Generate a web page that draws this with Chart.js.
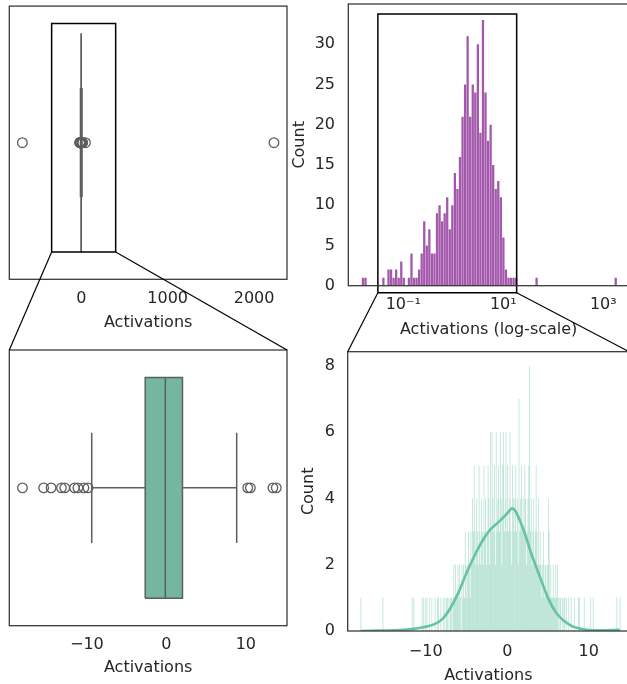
<!DOCTYPE html>
<html>
<head>
<meta charset="utf-8">
<script src="https://cdn.jsdelivr.net/npm/chart.js@4.4.0/dist/chart.umd.min.js"></script>
<style>
  html, body { margin: 0; padding: 0; background: #fff; }
  body { position: relative; width: 627px; height: 684px; overflow: hidden; }
  canvas { position: absolute; }
  #overlay { left: 0; top: 0; pointer-events: none; }
</style>
</head>
<body>
<canvas id="tl" width="300" height="350" style="left:0;top:0"></canvas>
<canvas id="tr" width="350" height="350" style="left:290px;top:0"></canvas>
<canvas id="bl" width="300" height="354" style="left:0;top:340px"></canvas>
<canvas id="br" width="350" height="354" style="left:290px;top:340px"></canvas>
<canvas id="overlay" width="627" height="684"></canvas>
<script>
/* ── Activations: box plots + histograms, full range and zoomed ── */

// ── Data ──────────────────────────────────────
// box summary: lower whisker, Q1, median, Q3, upper whisker
const boxStats = [-9.39, -2.66, -0.13, 2.03, 8.85];
const outliers = [-682, -18.1, -15.44, -14.5, -13.2, -12.78, -11.55, -11.13, -10.37, -9.86,
                  10.24, 10.57, 13.41, 13.83, 48, 2230];

// positive activations, 100 bins of equal width in log10
const logBinStart = -1.832;
const logBinWidth = 0.05106;
const logCounts = [
  1, 1, 0, 0, 0, 0, 0, 0, 1, 0,
  2, 2, 1, 2, 1, 3, 1, 0, 1, 4,
  1, 1, 2, 4, 8, 5, 7, 4, 4, 9,
  10, 8, 9, 11, 7, 10, 14, 12, 16, 21,
  25, 31, 21, 25, 24, 30, 19, 33, 24, 18,
  20, 15, 12, 13, 11, 6, 2, 1, 1, 1,
  1, 0, 0, 0, 0, 0, 0, 0, 1, 0,
  0, 0, 0, 0, 0, 0, 0, 0, 0, 0,
  0, 0, 0, 0, 0, 0, 0, 0, 0, 0,
  0, 0, 0, 0, 0, 0, 0, 0, 0, 1
];

// zoomed histogram, bins of 0.1 starting at -18
const linBinStart = -18.0;
const linBinWidth = 0.1;
const linCounts = [
  1,0,0,0,0,0,0,0,0,0, 0,0,0,0,0,0,0,0,0,0,
  0,0,0,0,0,0,0,1,0,0, 0,0,0,0,0,0,0,0,0,0,
  0,0,0,0,0,0,0,0,0,0, 0,0,0,0,0,0,0,0,0,0,
  0,0,0,1,0,1,0,0,0,0, 0,0,0,0,0,1,0,1,0,1,
  0,1,0,0,1,0,0,1,0,0, 0,1,0,0,1,1,0,0,1,0,
  0,1,0,1,0,1,1,0,1,0, 1,1,0,1,2,1,2,1,1,2,
  1,2,1,0,2,1,2,1,3,2, 1,2,3,2,1,3,2,4,3,5,
  3,2,4,3,2,5,3,2,4,3, 2,5,3,4,2,3,5,4,2,6,
  3,6,4,3,5,2,6,3,4,5, 3,6,4,2,5,6,3,4,6,3,
  5,3,4,6,3,2,5,4,3,4, 5,3,4,2,7,3,4,5,3,4,
  3,5,4,2,3,4,5,8,3,4, 2,3,4,2,3,5,3,2,4,2,
  3,2,1,2,3,1,2,2,1,2, 4,3,1,2,1,1,2,1,1,2,
  1,2,1,0,1,1,0,1,0,1, 1,0,1,0,0,1,0,0,1,0,
  0,0,1,0,0,0,0,1,1,0, 0,0,0,0,1,0,0,0,0,0,
  0,0,1,0,0,1,0,0,0,0, 0,0,0,0,0,0,0,0,0,0,
  0,0,0,0,0,0,0,0,0,0, 0,0,0,0,1,0,0,0,1,0
];

// density curve scaled to counts
const kdeX = [-18.0, -16, -14, -12, -10, -9, -8, -7, -6, -5, -4, -3, -2, -1, 0, 0.6,
              1, 2, 3, 4, 5, 6, 7, 8, 9, 10, 11, 12, 13, 13.8];
const kdeY = [0.0, 0.01, 0.02, 0.05, 0.13, 0.2, 0.35, 0.68, 1.15, 1.75, 2.28, 2.74, 3.08, 3.3, 3.55, 3.7,
              3.62, 3.05, 2.3, 1.64, 1.0, 0.55, 0.3, 0.14, 0.07, 0.03, 0.02, 0.02, 0.03, 0.04];

// ticks
const wideTicks = [0, 1000, 2000];
const wideTickLabels = ['0', '1000', '2000'];
const zoomTicks = [-10, 0, 10];
const zoomTickLabels = ['\u221210', '0', '10'];
const logTicks = [0.1, 10, 1000];
const logTickLabels = ['10\u207B\u00B9', '10\u00B9', '10\u00B3'];
const countTicksLog = [0, 5, 10, 15, 20, 25, 30];
const countTicksZoom = [0, 2, 4, 6, 8];

// zoom windows (data units of the upper plots)
const wideZoomX = [-343, 398];
const wideZoomY = [-0.4, 0.436];
const logZoomX = [0.031, 18.5];
const logZoomY = [-0.87, 33.75];

// ── Style ─────────────────────────────────────
const ink = '#262626';
const font = { family: 'DejaVu Sans', size: 16 };
const boxLine = '#5e5e5e';
const boxFill = '#75b6a0';
const green = '#66c2a5';
Chart.defaults.font.family = font.family;
Chart.defaults.font.size = font.size;
Chart.defaults.color = ink;

const framePlugin = {
  id: 'frame',
  afterDatasetsDraw(chart) {
    const { ctx, chartArea: a } = chart;
    ctx.save();
    ctx.strokeStyle = '#333';
    ctx.lineWidth = 1.25;
    ctx.strokeRect(a.left, a.top, a.right - a.left, a.bottom - a.top);
    ctx.restore();
  }
};

const common = {
  responsive: false,
  animation: false,
  events: [],
  plugins: { legend: { display: false }, tooltip: { enabled: false } }
};

// fixed axis size, no extra room for overhanging labels
function pinSize(key, size) {
  return s => {
    s[key] = size;
    s.paddingLeft = s.paddingRight = s.paddingTop = s.paddingBottom = 0;
  };
}

function xAxis(type, min, max, values, labels, height, tickPad, text, titlePad) {
  return {
    type, min, max, offset: false,
    grid: { display: false, drawTicks: false },
    border: { display: false },
    afterBuildTicks: s => { s.ticks = values.map(v => ({ value: v })); },
    afterFit: pinSize('height', height),
    ticks: { callback: (v, i) => labels[i], padding: tickPad, maxRotation: 0, autoSkip: false, font, color: ink },
    title: { display: true, text, font, color: ink, padding: { top: 0, bottom: titlePad } }
  };
}

function yCount(max, values, width, tickPad, titlePad) {
  return {
    type: 'linear', min: 0, max,
    grid: { display: false, drawTicks: false },
    border: { display: false },
    afterBuildTicks: s => { s.ticks = values.map(v => ({ value: v })); },
    afterFit: pinSize('width', width),
    ticks: { callback: v => String(v), padding: tickPad, font, color: ink },
    title: { display: true, text: 'Count', font, color: ink, padding: { top: titlePad, bottom: 0 } }
  };
}

const rect = (xs, ys) => [
  { x: xs[0], y: ys[0] }, { x: xs[1], y: ys[0] }, { x: xs[1], y: ys[1] },
  { x: xs[0], y: ys[1] }, { x: xs[0], y: ys[0] }
];

function zoomFrame(xs, ys) {
  return { type: 'scatter', data: rect(xs, ys), showLine: true, borderColor: '#000', borderWidth: 1.5,
           pointRadius: 0, clip: false, order: 0 };
}

function boxplotDatasets() {
  const [lo, q1, med, q3, hi] = boxStats;
  const seg = pts => ({ type: 'scatter', data: pts, showLine: true, borderColor: boxLine, borderWidth: 1.5,
                        pointRadius: 0, order: 4 });
  return [
    { ...seg(rect([q1, q3], [-0.4, 0.4])), fill: 'shape', backgroundColor: boxFill, order: 5 },
    seg([{ x: med, y: -0.4 }, { x: med, y: 0.4 }]),
    seg([{ x: lo, y: 0 }, { x: q1, y: 0 }]),
    seg([{ x: q3, y: 0 }, { x: hi, y: 0 }]),
    seg([{ x: lo, y: -0.2 }, { x: lo, y: 0.2 }]),
    seg([{ x: hi, y: -0.2 }, { x: hi, y: 0.2 }]),
    { type: 'scatter', data: outliers.map(x => ({ x, y: 0 })), pointStyle: 'circle', pointRadius: 4.8,
      pointBorderWidth: 1.3, pointBorderColor: boxLine, pointBackgroundColor: 'rgba(0,0,0,0)', order: 1 }
  ];
}

// ── Top left: full-range box plot ─────────────
const tl = new Chart(document.getElementById('tl'), {
  type: 'scatter',
  data: { datasets: [...boxplotDatasets(), zoomFrame(wideZoomX, wideZoomY)] },
  options: {
    ...common,
    layout: { padding: { left: 9.3, top: 4, right: 13, bottom: 0 } },
    scales: {
      x: xAxis('linear', -833, 2381, wideTicks, wideTickLabels, 70.7, 10.3, 'Activations', 18),
      y: { type: 'linear', min: -0.5, max: 0.5, display: false }
    }
  },
  plugins: [framePlugin]
});

// ── Top right: log-scale histogram ────────────
const logBars = logCounts
  .map((c, k) => ({ x: 10 ** (logBinStart + (k + 0.5) * logBinWidth), y: c }))
  .filter(p => p.y > 0);

const tr = new Chart(document.getElementById('tr'), {
  type: 'bar',
  data: {
    datasets: [
      { type: 'bar', data: logBars, backgroundColor: '#a458ac', borderWidth: 0,
        categoryPercentage: 1, barPercentage: 0.9, inflateAmount: 0, order: 2 },
      zoomFrame(logZoomX, logZoomY)
    ]
  },
  options: {
    ...common,
    layout: { padding: { left: 0, top: 4, right: 11, bottom: 0 } },
    scales: {
      x: xAxis('logarithmic', 10 ** -2.1, 10 ** 3.514, logTicks, logTickLabels, 64.3, 9.7,
               'Activations (log-scale)', 10.4),
      y: yCount(35, countTicksLog, 58.3, 13.3, 0.4)
    }
  },
  plugins: [framePlugin]
});

// ── Bottom left: zoomed box plot ──────────────
const bl = new Chart(document.getElementById('bl'), {
  type: 'scatter',
  data: { datasets: boxplotDatasets() },
  options: {
    ...common,
    layout: { padding: { left: 9.3, top: 10, right: 13, bottom: 0 } },
    scales: {
      x: xAxis('linear', -19.76, 15.18, zoomTicks, zoomTickLabels, 68.3, 10, 'Activations', 16.1),
      y: { type: 'linear', min: -0.5, max: 0.5, display: false }
    }
  },
  plugins: [framePlugin]
});

// ── Bottom right: zoomed histogram + density ──
const linBars = linCounts
  .map((c, i) => ({ x: linBinStart + (i + 0.5) * linBinWidth, y: c }))
  .filter(p => p.y > 0);

const br = new Chart(document.getElementById('br'), {
  type: 'bar',
  data: {
    datasets: [
      { type: 'bar', data: linBars, backgroundColor: 'rgba(102,194,165,0.45)', borderWidth: 0,
        categoryPercentage: 1, barPercentage: 1, inflateAmount: 0, order: 2 },
      { type: 'scatter', data: kdeX.map((x, i) => ({ x, y: kdeY[i] })), showLine: true,
        borderColor: green, borderWidth: 2.6, pointRadius: 0, cubicInterpolationMode: 'monotone', order: 1 }
    ]
  },
  options: {
    ...common,
    layout: { padding: { left: 0, top: 11.7, right: 11, bottom: 0 } },
    scales: {
      x: xAxis('linear', -19.57, 14.94, zoomTicks, zoomTickLabels, 63, 11.1, 'Activations', 8.7),
      y: yCount(8.43, countTicksZoom, 57.7, 12.7, 9.6)
    }
  },
  plugins: [framePlugin]
});

// ── Connector lines between zoom windows and zoomed plots ──
const ov = document.getElementById('overlay').getContext('2d');
ov.strokeStyle = '#000';
ov.lineWidth = 1.2;

function onPage(chart, px, py) {
  return [chart.canvas.offsetLeft + px, chart.canvas.offsetTop + py];
}
function link(a, b) {
  ov.beginPath();
  ov.moveTo(a[0], a[1]);
  ov.lineTo(b[0], b[1]);
  ov.stroke();
}

const tlBottom = tl.scales.y.getPixelForValue(wideZoomY[0]);
link(onPage(tl, tl.scales.x.getPixelForValue(wideZoomX[0]), tlBottom), onPage(bl, bl.chartArea.left, bl.chartArea.top));
link(onPage(tl, tl.scales.x.getPixelForValue(wideZoomX[1]), tlBottom), onPage(bl, bl.chartArea.right, bl.chartArea.top));

const trBottom = tr.scales.y.getPixelForValue(logZoomY[0]);
link(onPage(tr, tr.scales.x.getPixelForValue(logZoomX[0]), trBottom), onPage(br, br.chartArea.left, br.chartArea.top));
link(onPage(tr, tr.scales.x.getPixelForValue(logZoomX[1]), trBottom), onPage(br, br.chartArea.right, br.chartArea.top));
</script>
</body>
</html>
